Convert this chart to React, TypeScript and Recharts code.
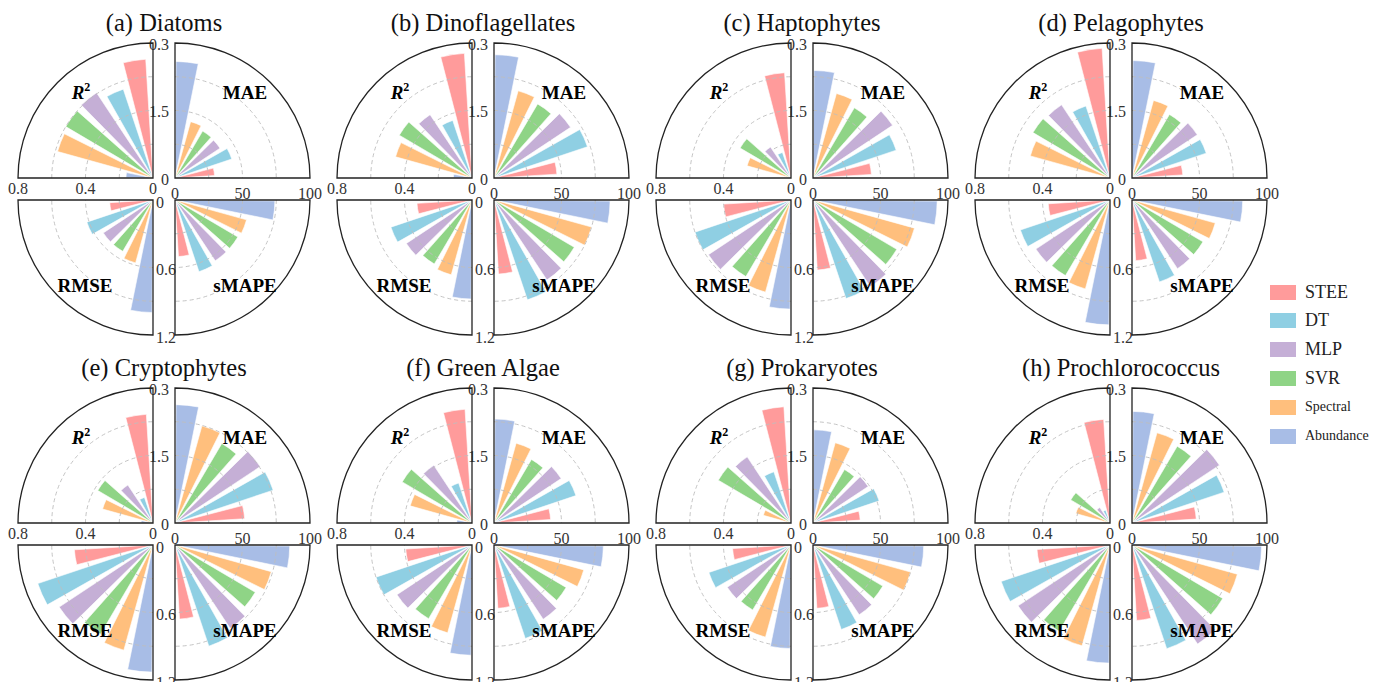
import React from "react";
import {
  RadialBarChart,
  RadialBar,
  PolarAngleAxis,
  PolarRadiusAxis,
  Cell,
} from "recharts";

// model order as listed in the legend
const models = ["STEE", "DT", "MLP", "SVR", "Spectral", "Abundance"];
const modelColors = ["#FF9B9B", "#8FCFE3", "#C5AFD6", "#8FD486", "#FFBF7D", "#A8BDE6"];

const groups = [
  "(a) Diatoms",
  "(b) Dinoflagellates",
  "(c) Haptophytes",
  "(d) Pelagophytes",
  "(e) Cryptophytes",
  "(f) Green Algae",
  "(g) Prokaryotes",
  "(h) Prochlorococcus",
];

// one row per group, columns follow `models`
const r2Values = [
  [0.705, 0.555, 0.606, 0.6, 0.587, 0.16],
  [0.74, 0.36, 0.45, 0.5, 0.47, 0.11],
  [0.625, 0.16, 0.22, 0.35, 0.27, 0.02],
  [0.77, 0.45, 0.52, 0.53, 0.49, 0.03],
  [0.645, 0.16, 0.27, 0.38, 0.31, 0.07],
  [0.675, 0.25, 0.41, 0.48, 0.38, 0.09],
  [0.69, 0.32, 0.47, 0.5, 0.17, 0.01],
  [0.615, 0.08, 0.11, 0.27, 0.21, 0.01],
];

const maeValues = [
  [0.88, 1.33, 1.2, 1.21, 1.3, 2.59],
  [1.4, 2.19, 2.04, 1.91, 2.01, 2.74],
  [1.3, 1.95, 2.12, 1.81, 1.95, 2.39],
  [1.13, 1.74, 1.74, 1.64, 1.79, 2.61],
  [1.55, 2.3, 2.27, 2.05, 2.24, 2.63],
  [1.26, 1.92, 1.79, 1.64, 1.84, 2.31],
  [1.05, 1.55, 1.47, 1.38, 1.85, 2.07],
  [1.43, 2.16, 2.33, 1.98, 2.08, 2.48],
];

const rmseValues = [
  [0.385, 0.62, 0.53, 0.53, 0.58, 1.0],
  [0.49, 0.76, 0.7, 0.66, 0.69, 0.88],
  [0.6, 0.9, 0.88, 0.79, 0.85, 0.97],
  [0.55, 0.84, 0.79, 0.78, 0.82, 1.11],
  [0.7, 1.08, 1.0, 0.92, 0.97, 1.13],
  [0.59, 0.9, 0.8, 0.76, 0.81, 0.98],
  [0.52, 0.77, 0.68, 0.67, 0.85, 0.92],
  [0.65, 1.02, 0.98, 0.89, 0.93, 1.05],
];

const smapeValues = [
  [42, 56, 54, 54, 55, 74],
  [55, 78, 71, 69, 75, 86],
  [52, 77, 77, 72, 78, 92],
  [45, 64, 61, 61, 64, 82],
  [55, 79, 74, 69, 74, 85],
  [47, 73, 66, 62, 69, 81],
  [47, 66, 62, 60, 75, 82],
  [56, 81, 88, 78, 81, 96],
];

const r2Ticks = [0, 0.4, 0.8];
const maeTicks = [0, 1.5, 3];
const rmseTicks = [0, 0.6, 1.2];
const smapeTicks = [0, 50, 100];

const r2TickLabels = ["0", "0.4", "0.8"];
const maeTickLabels = ["0", "1.5", "0.3"];
const rmseTickLabels = ["0", "0.6", "1.2"];
const smapeTickLabels = ["0", "50", "100"];

const SERIF = "'Liberation Serif', 'Times New Roman', serif";

// panel geometry
const PANEL_W = 340;
const PANEL_H = 345;
const COL_STEP = 319;
const ROW_STEP = 345;
const R = 135;
const CX_L = 153;
const CX_R = 175;
const CY_T = 178;
const CY_B = 200;
// recharts puts the first centric band one band past the start angle,
// so pull the range back to land the first bar just inside the leading edge
const ANGLE_SHIFT = -13.5;

type Side = "tl" | "tr" | "bl" | "br";

const quadrants: {
  side: Side;
  values: number[][];
  ticks: number[];
  tickLabels: string[];
  tickCount: number;
  start: number;
}[] = [
  // tickCount is picked so the nice-tick step never stretches the domain past its last tick
  { side: "tl", values: r2Values, ticks: r2Ticks, tickLabels: r2TickLabels, tickCount: 2, start: 180 },
  { side: "tr", values: maeValues, ticks: maeTicks, tickLabels: maeTickLabels, tickCount: 3, start: 90 },
  { side: "bl", values: rmseValues, ticks: rmseTicks, tickLabels: rmseTickLabels, tickCount: 3, start: 270 },
  { side: "br", values: smapeValues, ticks: smapeTicks, tickLabels: smapeTickLabels, tickCount: 3, start: 0 },
];

const centerOf = (side: Side) => ({
  cx: side === "tl" || side === "bl" ? CX_L : CX_R,
  cy: side === "tl" || side === "tr" ? CY_T : CY_B,
});

// edge that carries the radius ticks in each quarter
const axisAngle: Record<Side, number> = { tl: 180, tr: 90, bl: 270, br: 0 };

const pt = (cx: number, cy: number, r: number, deg: number) => {
  const a = (deg * Math.PI) / 180;
  return [cx + r * Math.cos(a), cy - r * Math.sin(a)];
};

const arcPath = (cx: number, cy: number, r: number, a0: number) => {
  const [x0, y0] = pt(cx, cy, r, a0);
  const [x1, y1] = pt(cx, cy, r, a0 - 90);
  return `M${x0},${y0} A${r},${r} 0 0 1 ${x1},${y1}`;
};

function makeTick(side: Side, ticks: number[], labels: string[]) {
  return (props: any) => {
    const { x, y, payload } = props;
    const i = ticks.indexOf(payload?.value);
    let tx = x;
    let ty = y;
    let anchor: "start" | "middle" | "end" = "middle";
    if (side === "tl") ty = y + 15.5;
    else if (side === "tr") {
      tx = x - 6;
      ty = y + 6.5;
      anchor = "end";
    } else if (side === "bl") {
      tx = x + 3;
      ty = y + 7.5;
      anchor = "start";
    } else ty = y - 1.5;
    return (
      <text x={tx} y={ty} textAnchor={anchor} fontSize={16} fontFamily={SERIF} fill="#333">
        {i >= 0 ? labels[i] : ""}
      </text>
    );
  };
}

function QuadrantChart({ q, group }: { q: (typeof quadrants)[number]; group: number }) {
  const { cx, cy } = centerOf(q.side);
  // clockwise from the quarter's leading edge: Abundance ... STEE
  const data = models
    .map((m, i) => ({ name: m, value: q.values[group][i], color: modelColors[i] }))
    .reverse();
  const max = q.ticks[q.ticks.length - 1];
  return (
    <div style={{ position: "absolute", left: 0, top: 0 }}>
      <RadialBarChart
        width={PANEL_W}
        height={PANEL_H}
        data={data}
        cx={cx}
        cy={cy}
        innerRadius={0}
        outerRadius={R}
        startAngle={q.start + ANGLE_SHIFT}
        endAngle={q.start - 90 + ANGLE_SHIFT}
        layout="centric"
        margin={{ top: 0, right: 0, bottom: 0, left: 0 }}
      >
        <PolarAngleAxis type="category" dataKey="name" tick={false} axisLine={false} tickLine={false} />
        <PolarRadiusAxis
          type="number"
          angle={axisAngle[q.side]}
          domain={[0, max]}
          ticks={q.ticks}
          tickCount={q.tickCount}
          allowDecimals
          allowDataOverflow
          axisLine={false}
          tickLine={false}
          tick={makeTick(q.side, q.ticks, q.tickLabels)}
        />
        <RadialBar dataKey="value" barSize={11} isAnimationActive={false}>
          {data.map((d) => (
            <Cell key={d.name} fill={d.color} stroke="#fff" strokeWidth={0.6} />
          ))}
        </RadialBar>
      </RadialBarChart>
    </div>
  );
}

function Overlay({ group }: { group: number }) {
  return (
    <svg
      width={PANEL_W}
      height={PANEL_H}
      style={{ position: "absolute", left: 0, top: 0, overflow: "visible", pointerEvents: "none" }}
    >
      {quadrants.map((q) => {
        const { cx, cy } = centerOf(q.side);
        const [ex, ey] = pt(cx, cy, R, q.start);
        return (
          <g key={q.side}>
            {[0.25, 0.5, 0.75].map((f) => (
              <path
                key={f}
                d={arcPath(cx, cy, R * f, q.start)}
                fill="none"
                stroke="#bdbdbd"
                strokeWidth={0.9}
                strokeDasharray="4 3"
              />
            ))}
            <path
              d={`M${cx},${cy} L${ex},${ey} ${arcPath(cx, cy, R, q.start).replace(/^M[^A]*/, "")} Z`}
              fill="none"
              stroke="#222"
              strokeWidth={1.3}
              strokeLinejoin="miter"
            />
          </g>
        );
      })}
      <text x={CX_L - 72} y={CY_T - 79} textAnchor="middle" fontFamily={SERIF} fontWeight="bold" fontSize={19} fill="#000">
        <tspan fontStyle="italic">R</tspan>
        <tspan fontSize={12} dy={-8}>2</tspan>
      </text>
      <text x={CX_R + 70} y={CY_T - 79} textAnchor="middle" fontFamily={SERIF} fontWeight="bold" fontSize={19} fill="#000">
        MAE
      </text>
      <text x={CX_L - 68} y={CY_B + 91.5} textAnchor="middle" fontFamily={SERIF} fontWeight="bold" fontSize={19} fill="#000">
        RMSE
      </text>
      <text x={CX_R + 70} y={CY_B + 91.5} textAnchor="middle" fontFamily={SERIF} fontWeight="bold" fontSize={19} fill="#000">
        sMAPE
      </text>
      <text x={(CX_L + CX_R) / 2} y={31} textAnchor="middle" fontFamily={SERIF} fontSize={24.5} fill="#111">
        {groups[group]}
      </text>
    </svg>
  );
}

function Panel({ group }: { group: number }) {
  const col = group % 4;
  const row = Math.floor(group / 4);
  return (
    <div
      style={{
        position: "absolute",
        left: col * COL_STEP,
        top: row * ROW_STEP,
        width: PANEL_W,
        height: PANEL_H,
      }}
    >
      {quadrants.map((q) => (
        <QuadrantChart key={q.side} q={q} group={group} />
      ))}
      <Overlay group={group} />
    </div>
  );
}

function Legend() {
  return (
    <div style={{ position: "absolute", left: 1270, top: 284 }}>
      {models.map((m, i) => (
        <div
          key={m}
          style={{ position: "absolute", left: 0, top: i * 28.8, width: 110, height: 16, display: "flex", alignItems: "center" }}
        >
          <div style={{ width: 26, height: 15, background: modelColors[i], flex: "none" }} />
          <span
            style={{
              marginLeft: 9,
              fontFamily: SERIF,
              fontSize: m.length > 4 ? 14 : 18,
              color: "#222",
              whiteSpace: "nowrap",
            }}
          >
            {m}
          </span>
        </div>
      ))}
    </div>
  );
}

export default function App() {
  return (
    <div
      style={{
        position: "absolute",
        left: 0,
        top: 0,
        width: 1373,
        height: 682,
        overflow: "hidden",
        background: "#fff",
      }}
    >
      {groups.map((g, i) => (
        <Panel key={g} group={i} />
      ))}
      <Legend />
    </div>
  );
}
